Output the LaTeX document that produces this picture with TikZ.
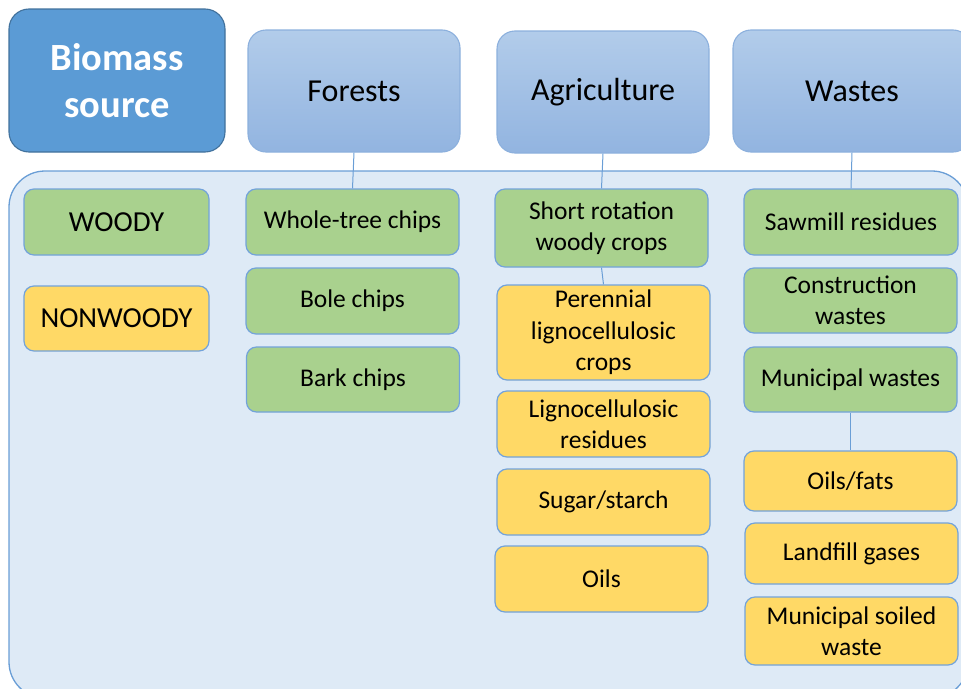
\documentclass[tikz,border=0pt]{standalone}
\usepackage{fontspec}
\setmainfont{Carlito}
\definecolor{srcfill}{HTML}{5B9BD5}
\definecolor{srcline}{HTML}{41719C}
\definecolor{headtop}{HTML}{B2CCEA}
\definecolor{headbot}{HTML}{92B4E0}
\definecolor{headline}{HTML}{8CB0DD}
\definecolor{panelfill}{HTML}{DEEAF6}
\definecolor{panelline}{HTML}{6A9ED6}
\definecolor{boxline}{HTML}{73A3DA}
\definecolor{woodgreen}{HTML}{A9D18E}
\definecolor{nonwoodyellow}{HTML}{FFD966}
\tikzset{
  box/.style={draw=boxline, line width=1.2pt, rounded corners=10pt, align=center,
    inner sep=0pt, minimum width=213pt, minimum height=66pt,
    font=\fontsize{25.5}{31.5}\selectfont},
  woodbox/.style={box, fill=woodgreen},
  nonwoodbox/.style={box, fill=nonwoodyellow},
  headbox/.style={draw=headline, line width=1.1pt, rounded corners=18pt,
    top color=headtop, bottom color=headbot, inner sep=0pt,
    minimum width=212pt, minimum height=122pt, font=\fontsize{32}{38}\selectfont},
  link/.style={draw=panelline, line width=1pt}
}
\begin{document}
\begin{tikzpicture}[x=1pt,y=-1pt]
  \useasboundingbox (0,0) rectangle (961,688);
  \clip (0,0) rectangle (961,688);
  % panel behind the lists
  \draw[panelline, fill=panelfill, line width=1.3pt, rounded corners=36pt]
    (9,171) rectangle (968,698);
  % top row
  \node[draw=srcline, fill=srcfill, line width=1.1pt, rounded corners=20pt,
    minimum width=216pt, minimum height=143pt, align=center, text=white,
    font=\fontsize{38.5}{47}\selectfont\bfseries] (src) at (117,80.5) {Biomass\\source};
  \node[headbox] (forests) at (354,91) {Forests};
  \node[headbox] (agri) at (603,92) {Agriculture};
  \node[headbox, minimum width=238pt] (wastes) at (852,91) {Wastes};
  % left column
  \node[woodbox, minimum width=185pt, font=\fontsize{29}{32}\selectfont] (woody) at (116.5,222) {WOODY};
  \node[nonwoodbox, minimum width=185pt, minimum height=65pt, font=\fontsize{29}{32}\selectfont] (nonwoody) at (116.5,318.5) {NONWOODY};
  % forests
  \node[woodbox] (whole) at (352.5,222) {Whole-tree chips};
  \node[woodbox] (bole) at (352.5,301) {Bole chips};
  \node[woodbox, minimum height=65pt] (bark) at (353,379.5) {Bark chips};
  % agriculture
  \node[woodbox, minimum height=78pt] (short) at (601.5,228) {Short rotation\\woody crops};
  \node[nonwoodbox, minimum height=95pt] (perennial) at (603.5,332.5) {Perennial\\lignocellulosic\\crops};
  \node[nonwoodbox] (lignores) at (603.5,424) {Lignocellulosic\\residues};
  \node[nonwoodbox] (sugar) at (603.5,502) {Sugar/starch};
  \node[nonwoodbox] (oils) at (601.5,579) {Oils};
  % wastes
  \node[woodbox, minimum width=214pt] (sawmill) at (851,222) {Sawmill residues};
  \node[woodbox, minimum height=65pt] (constr) at (850.5,300.5) {Construction\\wastes};
  \node[woodbox, minimum height=65pt] (municipal) at (850.5,379.5) {Municipal wastes};
  \node[nonwoodbox, minimum height=60pt] (oilsfats) at (850.5,481) {Oils/fats};
  \node[nonwoodbox, minimum height=61pt] (landfill) at (851.5,553.5) {Landfill gases};
  \node[nonwoodbox, minimum height=68pt] (soiled) at (851.5,631) {Municipal soiled\\waste};
  % connectors
  \draw[link] (forests.south) -- (whole.north);
  \draw[link] (agri.south) -- (short.north);
  \draw[link] (short.south) -- (perennial.north);
  \draw[link] (wastes.south) -- (sawmill.north);
  \draw[link] (municipal.south) -- (oilsfats.north);
\end{tikzpicture}
\end{document}
